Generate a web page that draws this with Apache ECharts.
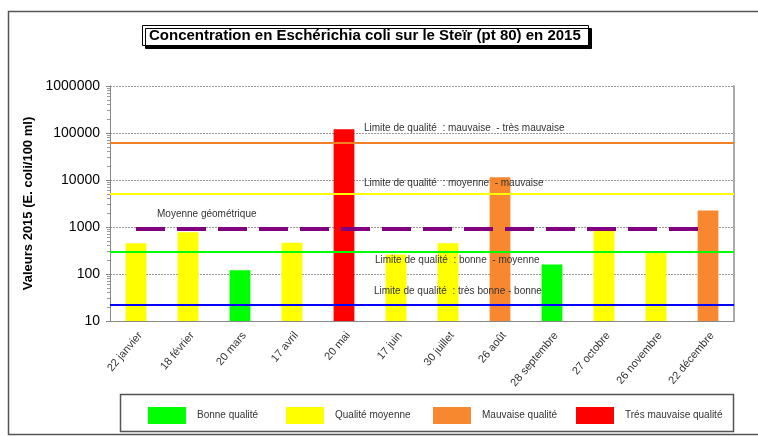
<!DOCTYPE html>
<html>
<head>
<meta charset="utf-8">
<script src="https://cdn.jsdelivr.net/npm/echarts@6/dist/echarts.min.js"></script>
<style>
	html, body { margin: 0; padding: 0; background: #fff; }
	#chart { width: 758px; height: 436px; }
</style>
</head>
<body>
<div id="chart"></div>
<script>
var categories = [ '22 janvier', '18 février', '20 mars', '17 avril', '20 mai', '17 juin',
		'30 juillet', '26 août', '28 septembre', '27 octobre', '26 novembre', '22 décembre' ];
var values = [ 450, 770, 120, 460, 120000, 260, 450, 11500, 160, 870, 300, 2250 ];
var classes = [ 'Qualité moyenne', 'Qualité moyenne', 'Bonne qualité', 'Qualité moyenne',
		'Trés mauvaise qualité', 'Qualité moyenne', 'Qualité moyenne', 'Mauvaise qualité',
		'Bonne qualité', 'Qualité moyenne', 'Qualité moyenne', 'Mauvaise qualité' ];
var classNames = [ 'Bonne qualité', 'Qualité moyenne', 'Mauvaise qualité', 'Trés mauvaise qualité' ];
var classColors = [ '#00FF00', '#FFFF00', '#F7882F', '#FF0000' ];

// limites de qualité
var limitMauvaise = 63000;
var limitMoyenne = 5000;
var limitBonne = 300;
var limitTresBonne = 22;
var moyenneGeo = 920;

var font = 'Arial, "Liberation Sans", sans-serif';

var barSeries = classNames.map(function(name, k) {
	return {
		name : name,
		type : 'bar',
		barWidth : '40%',
		barGap : '-100%',
		clip : true,
		itemStyle : {
			color : classColors[k]
		},
		data : values.map(function(v, i) {
			return classes[i] === name ? v : '-';
		})
	};
});

function hLine(value, color) {
	return {
		yAxis : value,
		lineStyle : {
			color : color,
			width : 2,
			type : 'solid'
		}
	};
}

var lineSeries = {
	name : 'limites',
	type : 'line',
	data : [],
	z : 5,
	markLine : {
		silent : true,
		symbol : [ 'none', 'none' ],
		label : {
			show : false
		},
		data : [ hLine(limitMauvaise, '#F07F26'), hLine(limitMoyenne, '#FFFF00'),
				hLine(limitBonne, '#00FF00'), hLine(limitTresBonne, '#0000FF'),
				[ {
					coord : [ 0, moyenneGeo ],
					lineStyle : {
						color : '#800080',
						width : 4,
						type : [ 29, 12 ]
					}
				}, {
					coord : [ categories.length - 1, moyenneGeo ]
				} ] ]
	}
};

var legends = classNames.map(function(name, k) {
	return {
		data : [ name ],
		left : [ 143, 281, 428, 571 ][k],
		top : 402,
		icon : 'rect',
		itemWidth : 38,
		itemHeight : 17,
		selectedMode : false,
		textStyle : {
			fontFamily : font,
			fontSize : 10,
			color : '#333',
			padding : [ 0, 0, 0, 6 ]
		}
	};
});

function note(x, y, text) {
	return {
		type : 'text',
		left : x,
		top : y,
		z : 20,
		style : {
			text : text,
			fontFamily : font,
			fontSize : 10,
			fill : '#333'
		}
	};
}

var option = {
	animation : false,
	title : {
		text : 'Concentration en Eschérichia coli sur le Steïr (pt 80) en 2015',
		left : 142,
		top : 25,
		padding : [ 3, 8, 3, 7 ],
		backgroundColor : '#fff',
		borderColor : '#000',
		borderWidth : 1,
		shadowColor : '#000',
		shadowOffsetX : 3,
		shadowOffsetY : 3,
		textStyle : {
			fontFamily : font,
			fontSize : 15,
			fontWeight : 'bold',
			color : '#000'
		}
	},
	legend : legends,
	grid : {
		left : 110,
		right : 24,
		top : 86,
		bottom : 115
	},
	xAxis : {
		type : 'category',
		data : categories,
		axisLine : {
			lineStyle : {
				color : '#888'
			}
		},
		axisTick : {
			length : 5,
			lineStyle : {
				color : '#888'
			}
		},
		axisLabel : {
			interval : 0,
			rotate : 50,
			margin : 9,
			verticalAlign : 'top',
			fontFamily : font,
			fontSize : 11,
			color : '#333'
		}
	},
	yAxis : [ {
		type : 'log',
		logBase : 10,
		min : 10,
		max : 1000000,
		name : 'Valeurs 2015 (E. coli/100 ml)',
		nameLocation : 'middle',
		nameGap : 74,
		nameTextStyle : {
			fontFamily : font,
			fontSize : 13,
			fontWeight : 'bold',
			color : '#000'
		},
		axisLine : {
			show : true,
			lineStyle : {
				color : '#888'
			}
		},
		axisTick : {
			show : true,
			length : 4,
			lineStyle : {
				color : '#888'
			}
		},
		minorTick : {
			show : true,
			splitNumber : 9,
			length : 3,
			lineStyle : {
				color : '#999'
			}
		},
		axisLabel : {
			margin : 10,
			fontFamily : font,
			fontSize : 14,
			color : '#000',
			formatter : function(v) {
				return String(Math.round(v));
			}
		},
		splitLine : {
			show : true,
			lineStyle : {
				color : '#999',
				type : [ 2, 1 ]
			}
		}
	}, {
		type : 'log',
		min : 10,
		max : 1000000,
		position : 'right',
		axisLine : {
			show : true,
			lineStyle : {
				color : '#aaa',
				width : 2
			}
		},
		axisTick : {
			show : false
		},
		axisLabel : {
			show : false
		},
		splitLine : {
			show : false
		}
	} ],
	graphic : [ {
		type : 'rect',
		left : 6,
		top : 9,
		z : -10,
		shape : {
			width : 800,
			height : 423
		},
		style : {
			fill : 'none',
			stroke : '#555',
			lineWidth : 1.5
		}
	}, {
		type : 'rect',
		left : 118,
		top : 392,
		shape : {
			width : 613,
			height : 37
		},
		style : {
			fill : 'none',
			stroke : '#555',
			lineWidth : 1.5
		}
	}, note(364, 123, 'Limite de qualité  : mauvaise  - très mauvaise'),
			note(364, 178, 'Limite de qualité  : moyenne  - mauvaise'),
			note(157, 209, 'Moyenne géométrique'),
			note(375, 255, 'Limite de qualité  : bonne  - moyenne'),
			note(374, 286, 'Limite de qualité  : très bonne - bonne') ],
	series : barSeries.concat([ lineSeries ])
};

var chart = echarts.init(document.getElementById('chart'));
chart.setOption(option);
</script>
</body>
</html>
